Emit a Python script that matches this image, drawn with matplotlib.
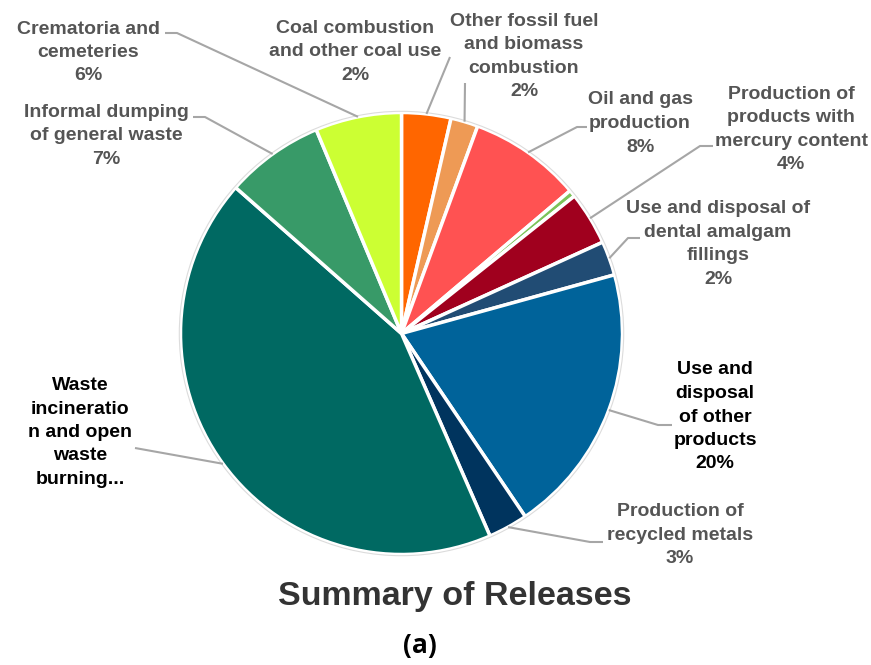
import numpy as np
import matplotlib.pyplot as plt
from matplotlib.patches import Circle

W, H = 871, 665

# slices, clockwise from 12 o'clock
names = ["Coal combustion\nand other coal use\n2%",
         "Other fossil fuel\nand biomass\ncombustion\n2%",
         "Oil and gas\nproduction\n8%",
         "",
         "Production of\nproducts with\nmercury content\n4%",
         "Use and disposal of\ndental amalgam\nfillings\n2%",
         "Use and\ndisposal\nof other\nproducts\n20%",
         "Production of\nrecycled metals\n3%",
         "Waste\nincineratio\nn and open\nwaste\nburning...",
         "Informal dumping\nof general waste\n7%",
         "Crematoria and\ncemeteries\n6%"]
values = [3.6, 2.0, 8.2, 0.5, 3.9, 2.5, 19.8, 2.9, 43.0, 7.2, 6.3]

colors = ["#FF6600", "#EE9A55", "#FF5252", "#7CC35A", "#A0001E", "#214C74",
          "#00639A", "#00345E", "#006962", "#389A68", "#CCFF33"]
txt_col = ["#555555"] * 11
txt_col[6] = "#000000"
txt_col[8] = "#000000"

# label layout (pixel coords, y from top): text centre, leader start, stub end
lab_xy = [(355, 52), (524, 56.5), (640, 123.5), None, (791, 129.5), (718, 244),
          (715, 417), (680, 535), (80, 432.5), (106, 136), (88, 52.5)]
lead = [((450, 57), None), ((465, 83), None), ((587, 127), (577, 127)), None,
        ((713, 146), (700, 146)), ((640, 238), (628, 238)),
        ((672, 425), (658, 425)), ((603, 542), (590, 542)),
        ((135, 448), None), ((193, 117), (205, 117)), ((165, 33), (177, 33))]

cx, cy, R = 401.5, H - 333.5, 221

fig = plt.figure(figsize=(W / 100, H / 100), dpi=100)
ax = fig.add_axes([0, 0, 1, 1])
wedges, _ = ax.pie(values, colors=colors, startangle=90, counterclock=False,
                   center=(cx, cy), radius=R,
                   wedgeprops=dict(edgecolor="white", linewidth=2.5))
ax.add_patch(Circle((cx, cy), R + 1.2, fill=False, edgecolor="#dcdcdc", lw=0.8))

for i, w in enumerate(wedges):
    if lab_xy[i] is None:
        continue
    m = np.deg2rad((w.theta1 + w.theta2) / 2)
    px, py = cx + R * np.cos(m), cy + R * np.sin(m)
    start, stub = lead[i]
    xs, ys = [start[0]], [H - start[1]]
    if stub is not None:
        xs.append(stub[0]); ys.append(H - stub[1])
    xs.append(px); ys.append(py)
    ax.plot(xs, ys, color="#A6A6A6", lw=1.5, solid_capstyle="butt")
    ax.text(lab_xy[i][0], H - lab_xy[i][1], names[i], ha="center", va="center",
            fontsize=14, fontweight="bold", color=txt_col[i],
            family="Liberation Sans", linespacing=1.5)

ax.text(455, H - 597, "Summary of Releases", ha="center", va="center",
        fontsize=24.5, fontweight="bold", color="#333333", family="Liberation Sans")
ax.text(420, H - 645, "(a)", ha="center", va="center", fontsize=19,
        fontweight="bold", color="#000000", family="Open Sans")

ax.set_xlim(0, W)
ax.set_ylim(0, H)
ax.axis("off")
fig.savefig("out.png", dpi=100, facecolor="white")
